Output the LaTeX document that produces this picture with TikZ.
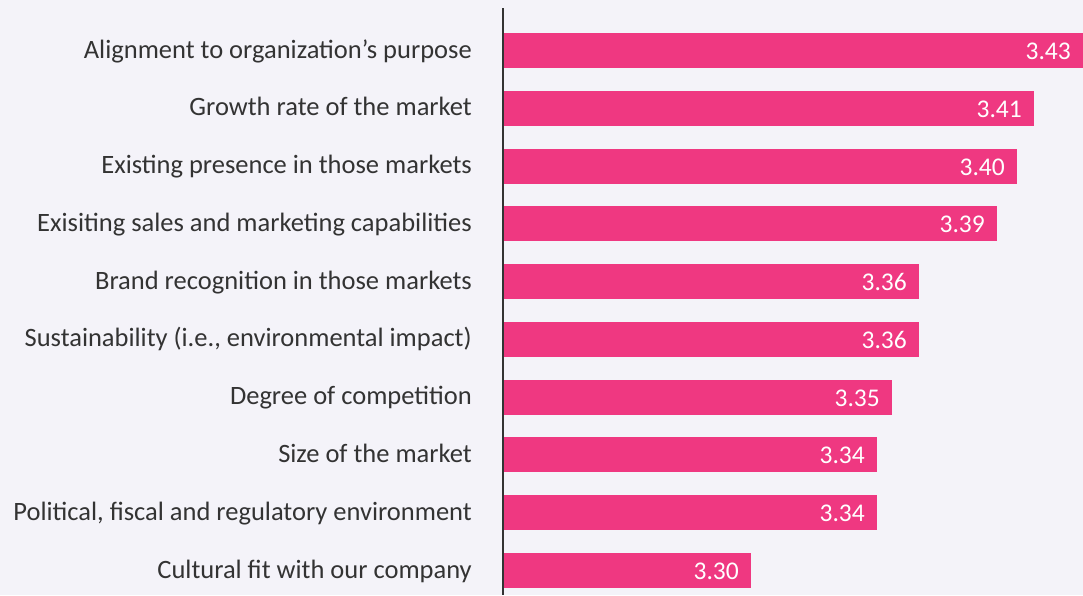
\documentclass[tikz,border=0pt]{standalone}
\usepackage{fontspec}
\setmainfont{Carlito}
\definecolor{bgcol}{HTML}{F4F3F9}
\definecolor{barcol}{HTML}{EF3881}
\definecolor{txtcol}{HTML}{333333}
\begin{document}
\begin{tikzpicture}[x=1pt,y=-1pt,
  catlabel/.style={anchor=base east,text=txtcol,font=\fontsize{26.5}{30}\selectfont,inner sep=0pt},
  vallabel/.style={anchor=base east,text=white,font=\fontsize{25.5}{30}\selectfont,inner sep=0pt},
  barbox/.style={fill=barcol}]
\fill[bgcol] (0,0) rectangle (1083,595);
\useasboundingbox (0,0) rectangle (1083,595);
\foreach \i/\lab/\val/\xr in {
  0/{Alignment to organization’s purpose}/3.43/1090,
  1/{Growth rate of the market}/3.41/1034,
  2/{Existing presence in those markets}/3.40/1017,
  3/{Exisiting sales and marketing capabilities}/3.39/997,
  4/{Brand recognition in those markets}/3.36/919,
  5/{Sustainability (i.e., environmental impact)}/3.36/919,
  6/{Degree of competition}/3.35/892,
  7/{Size of the market}/3.34/877,
  8/{Political, fiscal and regulatory environment}/3.34/877,
  9/{Cultural fit with our company}/3.30/751}{
  \pgfmathsetmacro{\yt}{33+57.78*\i}
  \fill[barbox] (503,\yt) rectangle (\xr,\yt+35);
  \pgfmathsetmacro{\xv}{min(\xr,1083)-12}
  \node[catlabel] (lab\i) at (472,\yt+25) {\lab};
  \node[vallabel] (val\i) at (\xv,\yt+26.5) {\val};
}
\coordinate (axtop) at (503,8);
\coordinate (axbot) at (503,595);
\draw[txtcol,line width=2pt] (axtop) -- (axbot);
\end{tikzpicture}
\end{document}
